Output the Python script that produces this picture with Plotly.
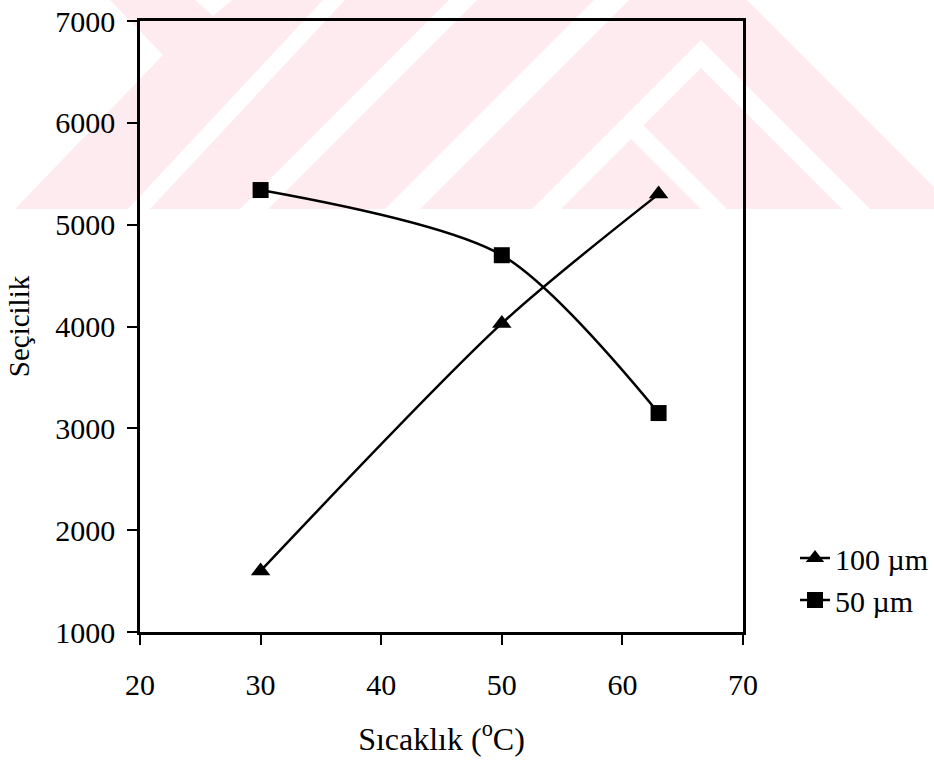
import plotly.graph_objects as go

# Temperature (°C) and selectivity values for the two membrane thicknesses
temperature = [30, 50, 63]
sel_100um = [1600, 4030, 5300]
sel_50um = [5340, 4700, 3150]

series_names = ["100 µm", "50 µm"]
x_ticks = [20, 30, 40, 50, 60, 70]
y_ticks = [1000, 2000, 3000, 4000, 5000, 6000, 7000]

W, H = 934, 764
L, R, T, B = 140, 191, 21, 132
PW, PH = W - L - R, H - T - B


def px(x, y):
    """pixel position -> paper coordinates"""
    return (x - L) / PW, (H - B - y) / PH


def path(points):
    parts = []
    for i, (x, y) in enumerate(points):
        u, v = px(x, y)
        parts.append(("M" if i == 0 else "L") + f"{u:.4f},{v:.4f}")
    return " ".join(parts) + " Z"


# faint background emblem (pink bands with white gaps)
PINK = "#fdebef"
emblem_pink = [
    [(15, 209), (163, 55), (110, 0), (747, 0), (934, 187), (934, 209)],
]
emblem_gaps = [
    [(195, 0), (232, 0), (213, 16)],
    [(128, 209), (150, 209), (345, 0), (323, 0)],
    [(240, 209), (268, 209), (477, 0), (449, 0)],
    [(385, 209), (420, 209), (629, 0), (594, 0)],
    [(532, 209), (701, 40), (870, 209), (842, 209), (701, 68), (560, 209)],
    [(535, 209), (631, 113), (727, 209), (701, 209), (631, 139), (561, 209)],
]

shapes = []
for poly in emblem_pink:
    shapes.append(dict(type="path", path=path(poly), xref="paper", yref="paper",
                       fillcolor=PINK, line=dict(width=0), layer="below"))
for poly in emblem_gaps:
    shapes.append(dict(type="path", path=path(poly), xref="paper", yref="paper",
                       fillcolor="white", line=dict(width=0), layer="below"))

fig = go.Figure()
fig.add_trace(go.Scatter(
    x=temperature, y=sel_100um, name=series_names[0], mode="lines+markers",
    line=dict(color="black", width=2.5, shape="spline", smoothing=0.8),
    marker=dict(symbol="triangle-up", size=17, color="black"),
))
fig.add_trace(go.Scatter(
    x=temperature, y=sel_50um, name=series_names[1], mode="lines+markers",
    line=dict(color="black", width=2.5, shape="spline", smoothing=0.8),
    marker=dict(symbol="square", size=16, color="black"),
))

font_family = "Liberation Serif, Times New Roman, serif"
axis_common = dict(
    showline=True, linecolor="black", linewidth=2.5, mirror=True,
    ticks="outside", ticklen=10, tickwidth=1.5, tickcolor="black",
    showgrid=False, zeroline=False,
    tickfont=dict(family=font_family, size=30, color="black"),
)

fig.update_layout(
    width=W, height=H,
    margin=dict(l=L, r=R, t=T, b=B, pad=0, autoexpand=False),
    paper_bgcolor="white", plot_bgcolor="rgba(0,0,0,0)",
    shapes=shapes,
    showlegend=True,
    legend=dict(
        x=(795 - L) / PW, y=(H - B - 532) / PH, xanchor="left", yanchor="top",
        font=dict(family=font_family, size=30, color="black"),
        bgcolor="rgba(0,0,0,0)", borderwidth=0, tracegroupgap=0,
    ),
    xaxis=dict(
        range=[20, 70], tickvals=x_ticks, ticktext=[str(v) for v in x_ticks],
        ticklabelstandoff=14,
        title=dict(text="Sıcaklık (<sup>o</sup>C)", standoff=28,
                   font=dict(family=font_family, size=32, color="black")),
        **axis_common,
    ),
    yaxis=dict(
        range=[1000, 7000], tickvals=y_ticks, ticktext=[str(v) for v in y_ticks],
        ticklabelstandoff=6,
        title=dict(text="Seçicilik", standoff=18,
                   font=dict(family=font_family, size=29, color="black")),
        **axis_common,
    ),
)

fig.write_html("out.html")
